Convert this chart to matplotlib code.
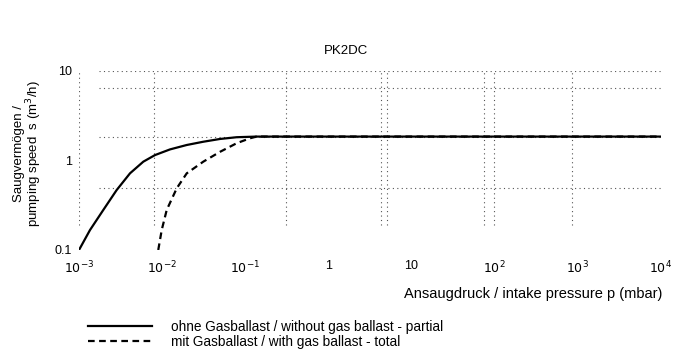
import matplotlib
matplotlib.use("Agg")
import matplotlib.pyplot as plt

plt.rcParams['font.family'] = ['Liberation Sans', 'DejaVu Sans']

# Saugvermoegen ohne Gasballast (durchgezogen)
p_ohne = [1e-3, 1.355e-3, 1.96e-3, 2.84e-3, 4.11e-3, 5.94e-3, 8.22e-3, 0.01245,
          0.0198, 0.0313, 0.0498, 0.079, 0.137, 1e4]
s_ohne = [0.1, 0.167, 0.280, 0.468, 0.719, 0.970, 1.15, 1.33,
          1.49, 1.62, 1.74, 1.82, 1.85, 1.85]

# Saugvermoegen mit Gasballast (gestrichelt)
p_mit = [8.99e-3, 9.89e-3, 0.01136, 0.0150, 0.0198, 0.0313, 0.0498, 0.079, 0.114, 0.137, 1e4]
s_mit = [0.1, 0.167, 0.280, 0.489, 0.719, 0.970, 1.25, 1.56, 1.77, 1.85, 1.85]

x_ticks = [1e-3, 1e-2, 1e-1, 1, 10, 1e2, 1e3, 1e4]
x_labels = ['$10^{-3}$', '$10^{-2}$', '$10^{-1}$', '1', '10', '$10^{2}$', '$10^{3}$', '$10^{4}$']
y_ticks = [0.1, 1, 10]
y_labels = ['0.1', '1', '10']

# Rasterlinien (aus dem Scan)
grid_x = [1e-3, 8e-3, 0.31, 4.3, 5.1, 74, 98, 850]
grid_y = [10, 6.4, 1.85, 0.49]

fig = plt.figure(figsize=(6.73, 3.58), dpi=100)
ax = fig.add_axes([0.1174, 0.3017, 0.8643, 0.5])

for gx in grid_x:
    ax.axvline(gx, ymin=0.14, ymax=1, color='#555555', lw=0.8, ls=(0, (1, 3)))
for gy in grid_y:
    ax.axhline(gy, xmin=0.035, xmax=1, color='#555555', lw=0.8, ls=(0, (1, 3)))

linie1, = ax.plot(p_ohne, s_ohne, color='black', lw=1.6)
linie2, = ax.plot(p_mit, s_mit, color='black', lw=1.6, ls=(0, (3, 2)))

ax.set_xscale('log')
ax.set_yscale('log')
ax.set_xlim(1e-3, 1e4)
ax.set_ylim(0.1, 10)
ax.minorticks_off()
ax.set_xticks(x_ticks)
ax.set_xticklabels(x_labels, fontsize=9)
ax.set_yticks(y_ticks)
ax.set_yticklabels(y_labels, fontsize=9)
ax.tick_params(axis='x', length=0, pad=7)
ax.tick_params(axis='y', length=0, pad=5)
for s in ax.spines.values():
    s.set_visible(False)

fig.text(0.514, 0.858, 'PK2DC', fontsize=9.5, ha='center', va='center')
fig.text(0.984, 0.178, 'Ansaugdruck / intake pressure p (mbar)', fontsize=10.5,
         ha='right', va='center')
fig.text(0.042, 0.57, 'Saugvermögen /\npumping speed  s (m$^3$/h)', fontsize=9.5,
         rotation=90, ha='center', va='center', linespacing=0.95)

leg = fig.legend([linie1, linie2],
                 ['ohne Gasballast / without gas ballast - partial',
                  'mit Gasballast / with gas ballast - total'],
                 loc='upper left', bbox_to_anchor=(0.12, 0.126), frameon=False,
                 fontsize=9.8, handlelength=4.7, handletextpad=1.4,
                 labelspacing=0.1, borderpad=0)

fig.savefig('out.png', dpi=100)
